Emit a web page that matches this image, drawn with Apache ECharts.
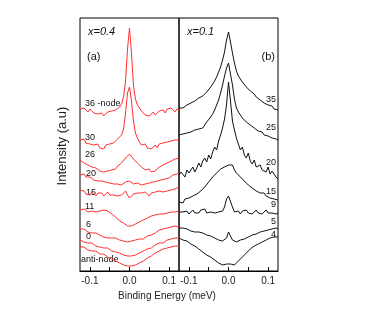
<!DOCTYPE html>
<html><head><meta charset="utf-8">
<script src="https://cdn.jsdelivr.net/npm/echarts@6/dist/echarts.min.js"></script>
<style>html,body{margin:0;padding:0;background:#fff}#c{width:379px;height:314px}</style>
</head><body><div id="c"></div>
<script>
// Binding energy sample points (meV)
const energy = [-0.125,-0.12,-0.115,-0.11,-0.105,-0.1,-0.095,-0.09,-0.085,-0.08,
 -0.075,-0.07,-0.065,-0.06,-0.055,-0.05,-0.045,-0.04,-0.035,-0.03,
 -0.025,-0.02,-0.015,-0.01,-0.005,0,0.005,0.01,0.015,0.02,
 0.025,0.03,0.035,0.04,0.045,0.05,0.055,0.06,0.065,0.07,
 0.075,0.08,0.085,0.09,0.095,0.1,0.105,0.11,0.115,0.12,0.125];

// Panel (a) x=0.4, stacked spectra (intensity incl. vertical offset, a.u.)
const a36 = [162,160,163,161,159,162,160,158,160,157, 156,158,155,157,159,157,160,158,161,163, 164,167,174,190,222,243,218,186,172,166, 163,160,158,156,158,155,157,159,156,158, 160,159,161,158,162,160,163,161,159,162,161];
const a30 = [131,129,132,128,130,127,129,126,124,127, 123,125,122,126,124,127,125,128,130,132, 134,136,142,158,178,184,170,150,138,133, 129,126,124,127,123,125,122,124,126,123, 127,125,128,126,129,127,130,128,131,130,131];
const a26 = [111,110,108,109,106,107,104,105,103,102, 100,102,99,101,100,98,101,103,102,105, 106,108,110,113,115,117,115,112,110,108, 106,104,103,101,100,102,99,101,100,102, 104,103,106,105,108,107,110,109,112,111,113];
const a20 = [96,95,97,94,93,94,92,91,92,90, 89,90,88,89,87,88,86,87,88,87, 88,86,87,89,88,90,88,87,86,88, 87,86,88,87,89,88,90,89,91,90, 92,91,93,92,94,93,95,96,95,97,98];
const a15 = [81,79,80,77,78,76,79,77,75,78, 76,78,75,77,79,76,78,76,77,75, 77,76,78,80,76,73,74,77,76,78, 76,78,76,79,77,75,78,77,79,78, 80,80,79,81,80,82,81,83,82,83,84];
const a11 = [61,60,62,60,59,61,60,61,59,60, 60,59,61,59,60,58,57,55,54,52, 50,49,48,46,45,44,45,46,47,48, 49,50,51,52,53,54,55,55,56,57, 57,58,57,59,58,60,59,60,59,61,60];
const a6  = [42,41,42,40,39,40,38,37,38,36, 36,35,34,35,33,34,33,32,33,31, 31,30,30,29,29,29,30,29,31,30, 32,33,32,34,35,34,36,37,38,39, 41,40,42,41,43,42,44,43,45,44,44];
const a0  = [31,30,29,30,28,27,28,26,25,26, 24,25,23,22,23,21,20,21,19,18, 18,17,16,15,15,14,15,15,16,17, 18,19,20,21,22,24,23,25,26,27, 28,29,28,30,31,30,32,31,33,32,33];
const aAnti = [24,23,24,22,21,22,20,19,20,18, 17,16,17,15,14,13,12,11,10,9, 8,7,6,5,5,4,5,5,6,7, 8,9,10,12,13,14,15,17,18,19, 20,21,22,21,23,22,24,23,25,24,25];

// Panel (b) x=0.1
const b35 = [163,164,163,165,166,165,168,167,170,171, 173,172,175,177,179,181,184,187,190,194, 199,204,211,219,231,239,229,218,208,200, 195,192,189,187,184,182,180,178,177,174, 173,171,170,168,167,166,164,165,162,163,161];
const b25 = [136,135,137,136,138,137,139,138,141,140, 142,144,143,146,149,151,154,157,161,166, 171,178,186,195,203,208,197,186,172,163, 159,156,153,151,149,147,146,144,143,141, 140,138,139,136,137,135,134,133,134,132,131];
const b20 = [96,99,97,94,101,98,100,104,99,103, 108,104,110,113,109,116,112,119,124,121, 130,136,143,152,166,189,170,150,141,133, 127,121,124,116,113,118,110,107,111,104, 102,106,101,103,99,104,97,100,98,94,92];
const b15 = [69,71,68,72,70,73,71,75,73,77, 76,80,81,84,86,89,91,94,95,98, 100,102,101,104,106,106,105,106,101,98, 97,94,92,90,88,86,84,83,82,80, 79,78,77,78,75,76,73,74,72,73,71];
const b9  = [59,57,59,58,60,57,59,61,58,60, 58,61,59,62,58,60,59,61,58,60, 59,58,60,64,72,75,73,64,59,58, 60,57,60,58,61,58,60,57,59,61, 58,60,57,59,61,58,60,58,59,57,58];
const b5  = [43,42,43,41,42,41,40,41,39,40, 39,38,38,37,36,36,35,34,33,32, 31,30,30,29,33,39,35,31,30,29, 30,31,32,32,33,34,35,36,36,37, 38,39,39,40,40,41,41,42,41,43,42];
const b4  = [33,32,31,30,30,28,27,26,25,24, 22,21,19,18,16,15,14,12,11,9, 8,7,6,5,7,9,7,5,6,8, 10,12,14,16,18,20,22,23,25,26, 27,28,29,30,31,32,33,33,34,34,34];

const seriesA = [a36,a30,a26,a20,a15,a11,a6,a0,aAnti];
const seriesB = [b35,b25,b20,b15,b9,b5,b4];
const labelsA = ['36 -node','30','26','20','15','11','6','0','anti-node'];
const labelsB = ['35','25','20','15','9','5','4'];
const tickLabels = [-0.1, 0, 0.1];
const tickMarks = [-0.1,-0.05,0,0.05,0.1];

// layout (pixels)
const posA = [[85,104],[85,138],[85,155],[86,174],[86,193],[85,207],[86,225],[86,237],[81,260]];
const posB = [[276,100],[276,128],[276,163],[276,192],[276,205],[276,222],[276,235]];
const FONT = 'Liberation Sans, Arial, sans-serif';

const chart = echarts.init(document.getElementById('c'));
function xAxis(i){
  return {type:'value', gridIndex:i, min:-0.125, max:0.125,
    axisLine:{show:true,lineStyle:{color:'#000',width:1}},
    axisTick:{show:true,inside:true,length:4,customValues:tickMarks,lineStyle:{color:'#000'}},
    axisLabel:{customValues:tickLabels,formatter:v=>Number(v).toFixed(1),color:'#222',fontSize:10,fontFamily:FONT,margin:5},
    splitLine:{show:false}};
}
function yAxis(i){
  return {type:'value', gridIndex:i, min:0, max:253, show:false};
}
const series = [];
seriesA.forEach(v=>series.push({type:'line',xAxisIndex:0,yAxisIndex:0,showSymbol:false,silent:true,
  data:energy.map((e,i)=>[e,v[i]]),lineStyle:{color:'#ff3030',width:1},animation:false}));
seriesB.forEach(v=>series.push({type:'line',xAxisIndex:1,yAxisIndex:1,showSymbol:false,silent:true,
  data:energy.map((e,i)=>[e,v[i]]),lineStyle:{color:'#111',width:1},animation:false}));

const graphic = [];
labelsA.forEach((t,i)=>graphic.push({type:'text',x:posA[i][0],y:posA[i][1],style:{text:t,fill:'#111',font:'9px '+FONT,textVerticalAlign:'middle'}}));
labelsB.forEach((t,i)=>graphic.push({type:'text',x:posB[i][0],y:posB[i][1],style:{text:t,fill:'#111',font:'9px '+FONT,textAlign:'right',textVerticalAlign:'middle'}}));
graphic.push({type:'text',x:88,y:32,style:{text:'x=0.4',fill:'#111',font:'italic 11px '+FONT,textVerticalAlign:'middle'}});
graphic.push({type:'text',x:87,y:57,style:{text:'(a)',fill:'#111',font:'11px '+FONT,textVerticalAlign:'middle'}});
graphic.push({type:'text',x:187,y:32,style:{text:'x=0.1',fill:'#111',font:'italic 11px '+FONT,textVerticalAlign:'middle'}});
graphic.push({type:'text',x:275,y:57,style:{text:'(b)',fill:'#111',font:'11px '+FONT,textAlign:'right',textVerticalAlign:'middle'}});
graphic.push({type:'text',x:167,y:296,style:{text:'Binding Energy (meV)',fill:'#222',font:'10px '+FONT,textAlign:'center',textVerticalAlign:'middle'}});
graphic.push({type:'text',x:62,y:146,rotation:Math.PI/2,style:{text:'Intensity (a.u)',fill:'#222',font:'13px '+FONT,textAlign:'center',textVerticalAlign:'middle'}});

chart.setOption({
  backgroundColor:'#fff',
  animation:false,
  grid:[
    {left:80,top:18,width:99,height:253,show:true,borderColor:'#000',borderWidth:1,backgroundColor:'transparent'},
    {left:179,top:18,width:99,height:253,show:true,borderColor:'#000',borderWidth:1,backgroundColor:'transparent'}
  ],
  xAxis:[xAxis(0),xAxis(1)],
  yAxis:[yAxis(0),yAxis(1)],
  series:series,
  graphic:graphic
});
</script></body></html>
